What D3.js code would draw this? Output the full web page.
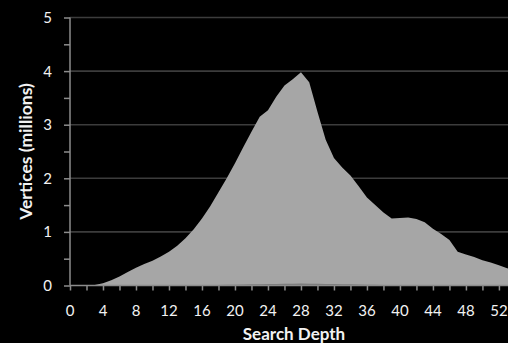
<!DOCTYPE html>
<html>
<head>
<meta charset="utf-8">
<script src="https://cdn.jsdelivr.net/npm/d3@7"></script>
<style>
  html, body { margin: 0; padding: 0; background: #000; }
  svg { display: block; }
  text { font-family: Lato, "Open Sans", sans-serif; fill: #f2f2f2; }
</style>
</head>
<body>
<svg id="chart" width="508" height="343"></svg>
<script>
// Search depth (one entry per level)
const depths = d3.range(0, 55);
// Vertices visited at each depth, millions
const totalVertices = [
  0, 0, 0, 0.01, 0.04, 0.10, 0.17, 0.25, 0.33, 0.40,
  0.46, 0.54, 0.63, 0.74, 0.88, 1.05, 1.25, 1.48, 1.74, 2.00,
  2.28, 2.58, 2.87, 3.15, 3.27, 3.52, 3.73, 3.85, 3.98, 3.79,
  3.24, 2.72, 2.38, 2.20, 2.05, 1.85, 1.64, 1.50, 1.36, 1.25,
  1.26, 1.27, 1.24, 1.18, 1.06, 0.96, 0.85, 0.63, 0.58, 0.53,
  0.47, 0.43, 0.38, 0.32, 0.28
];
// Smaller companion series near the baseline, millions
const subsetVertices = [
  0, 0, 0, 0, 0, 0, 0, 0, 0, 0,
  0, 0, 0, 0, 0.002, 0.004, 0.006, 0.008, 0.010, 0.012,
  0.015, 0.018, 0.021, 0.024, 0.027, 0.030, 0.032, 0.034, 0.035, 0.034,
  0.032, 0.030, 0.027, 0.024, 0.021, 0.018, 0.015, 0.012, 0.010, 0.008,
  0.006, 0.005, 0.004, 0.003, 0.002, 0.001, 0, 0, 0, 0,
  0, 0, 0, 0, 0
];
const xTickLabels = d3.range(0, 53, 4);
const yTickLabels = [0, 1, 2, 3, 4, 5];

const svg = d3.select("#chart");
const plotLeft = 70, plotRight = 508, plotTop = 17.5, plotBottom = 285.5;

const x = d3.scaleLinear().domain([0, 53.1]).range([plotLeft, plotRight]);
const y = d3.scaleLinear().domain([0, 5]).range([plotBottom, plotTop]);

// Horizontal gridlines
svg.append("g")
  .selectAll("line")
  .data(yTickLabels.slice(1))
  .join("line")
  .attr("x1", plotLeft).attr("x2", plotRight)
  .attr("y1", d => y(d)).attr("y2", d => y(d))
  .attr("stroke", "#3c3c3c").attr("stroke-width", 1.6);

svg.append("clipPath").attr("id", "plot-clip")
  .append("rect").attr("x", plotLeft).attr("y", 0)
  .attr("width", plotRight - plotLeft).attr("height", plotBottom);

const area = vals => d3.area()
  .x((d, i) => x(depths[i]))
  .y0(y(0))
  .y1(d => y(d))(vals);

const plot = svg.append("g").attr("clip-path", "url(#plot-clip)");
plot.append("path").attr("d", area(totalVertices)).attr("fill", "#a6a6a6");
plot.append("path").attr("d", area(subsetVertices)).attr("fill", "#7a7a7a");

// Y axis
const yAxis = svg.append("g").attr("transform", `translate(${plotLeft},0)`)
  .call(d3.axisLeft(y).tickValues(d3.range(0, 5.01, 0.5)).tickSize(6).tickFormat(""));
yAxis.select(".domain").attr("stroke", "#8c8c8c").attr("stroke-width", 1.5)
  .attr("d", `M0,${plotTop}V${plotBottom}`);
yAxis.selectAll(".tick line").attr("stroke", "#8c8c8c").attr("stroke-width", 1.5);

svg.append("g").selectAll("text")
  .data(yTickLabels)
  .join("text")
  .attr("x", 52).attr("y", d => y(d) + 5.5)
  .attr("text-anchor", "end")
  .attr("font-size", 15)
  .text(d => d);

// X axis
const xAxis = svg.append("g").attr("transform", `translate(0,${plotBottom})`)
  .call(d3.axisBottom(x).tickValues(d3.range(0, 54, 2)).tickSize(5).tickFormat(""));
xAxis.select(".domain").attr("stroke", "#8c8c8c").attr("stroke-width", 1.5)
  .attr("d", `M${plotLeft},0H${plotRight}`);
xAxis.selectAll(".tick line").attr("stroke", "#8c8c8c").attr("stroke-width", 1.5);

svg.append("g").selectAll("text")
  .data(xTickLabels)
  .join("text")
  .attr("x", d => x(d)).attr("y", 316)
  .attr("text-anchor", "middle")
  .attr("font-size", 15)
  .text(d => d);

// Axis titles
svg.append("text")
  .attr("x", 294).attr("y", 340)
  .attr("text-anchor", "middle")
  .attr("font-size", 17).attr("font-weight", "bold")
  .text("Search Depth");

svg.append("text")
  .attr("transform", `translate(32,${(plotTop + plotBottom) / 2}) rotate(-90)`)
  .attr("text-anchor", "middle")
  .attr("font-size", 17.5).attr("font-weight", "bold")
  .text("Vertices (millions)");
</script>
</body>
</html>
